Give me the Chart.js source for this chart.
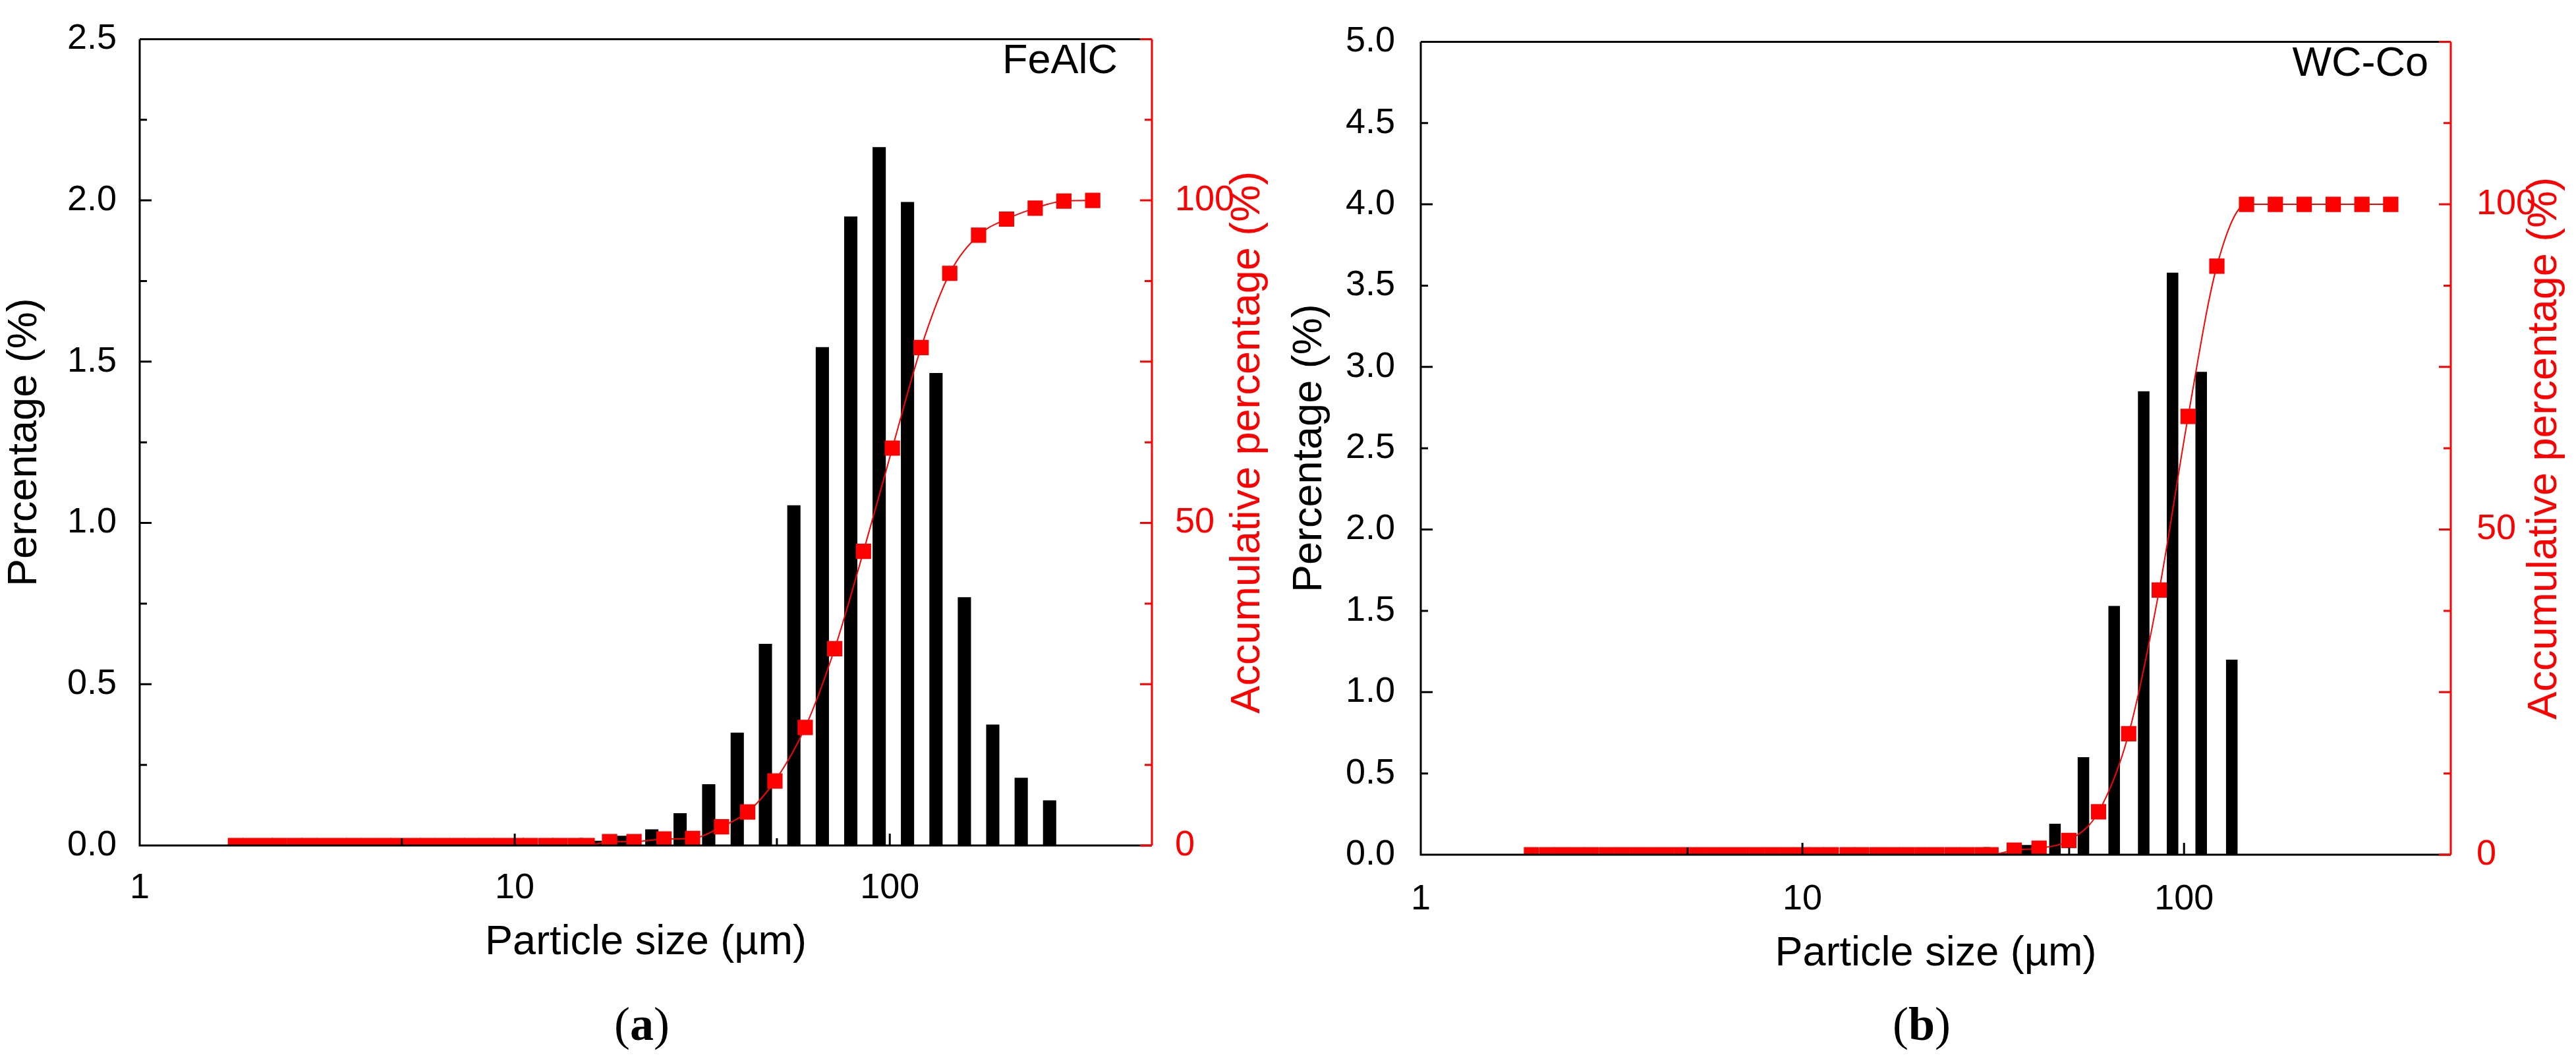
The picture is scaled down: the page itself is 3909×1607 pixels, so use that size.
<!DOCTYPE html>
<html><head><meta charset="utf-8">
<script src="https://cdn.jsdelivr.net/npm/chart.js@4.4.0/dist/chart.umd.min.js"></script>
<style>
body{margin:0;background:#fff;width:3909px;height:1607px;position:relative;overflow:hidden;font-family:"Liberation Sans",Arial,sans-serif}
.c{position:absolute;top:0}
.lbl{position:absolute;font-size:63px;color:#000;line-height:1}
.pl{position:absolute;font-family:"Liberation Serif",serif;font-size:72px;line-height:1}
</style></head><body>
<div class="c" style="left:0;width:1950px;height:1480px"><canvas id="a"></canvas></div>
<div class="c" style="left:1950px;width:1959px;height:1497px"><canvas id="b"></canvas></div>
<div class="lbl" style="right:2213px;top:58px">FeAlC</div>
<div class="lbl" style="right:224px;top:62px">WC-Co</div>
<div class="pl" style="left:932px;top:1518px">(<b>a</b>)</div>
<div class="pl" style="left:2872px;top:1518px">(<b>b</b>)</div>
<script>
// Panel (a) FeAlC
const aSize=[16.4,19.5,23.2,27.6,32.9,39.2,46.6,55.5,66.1,78.7,93.7,111.5,132.8,158.1,188.2,224.1,266.8];
const aPct=[0.015,0.03,0.05,0.1,0.19,0.35,0.625,1.055,1.545,1.95,2.165,1.995,1.465,0.77,0.375,0.21,0.14];
const aCumSize=[1.8,1.97,2.16,2.36,2.59,2.83,3.1,3.4,3.72,4.07,4.46,4.88,5.35,5.85,6.41,7.02,7.68,8.41,9.2,10.1,11.0,12.1,13.2,14.5,15.6,17.9,20.8,25.0,29.8,35.6,41.8,49.4,59.5,71.3,85.1,101.6,121.2,144.5,172.5,204.8,244.2,291.2,347.6];
const aCum=[0,0,0,0,0,0,0,0,0,0,0,0,0,0,0,0,0,0,0,0,0,0,0,0,0,0.6,0.6,1.0,1.1,2.9,5.2,10,18.3,30.5,45.6,61.6,77.2,88.7,94.6,97.1,98.8,99.9,100];
// Panel (b) WC-Co
const bSize=[33.2,38.5,45.9,54.5,65.6,78.4,93.3,110.9,133.4];
const bPct=[0.01,0.06,0.19,0.6,1.53,2.85,3.58,2.97,1.2];
const bCumSize=[1.95,2.14,2.34,2.56,2.8,3.07,3.36,3.68,4.03,4.41,4.83,5.29,5.79,6.34,6.94,7.6,8.32,9.11,9.97,10.9,11.9,13.1,14.3,15.7,17.2,18.8,20.6,22.5,24.7,27.0,29.6,31.2,35.9,41.7,49.9,59.7,71.6,86.1,102.5,121.9,145.8,173.5,206.5,246,292.5,348];
const bCum=[0,0,0,0,0,0,0,0,0,0,0,0,0,0,0,0,0,0,0,0,0,0,0,0,0,0,0,0,0,0,0,0,0.7,1.0,2.2,6.6,18.6,40.7,67.4,90.5,100,100,100,100,100,100];
const xTicks=[1,10,100], xMinor=[5,50];

function make(id,size,pct,cs,cv,o){
  const deco={id:'deco',afterDraw(ch){
    const c=ch.ctx,a=ch.chartArea,x=ch.scales.x,y=ch.scales.y,y1=ch.scales.y1;
    c.save();c.lineWidth=3;
    c.strokeStyle='#000';c.beginPath();
    c.moveTo(a.left,a.top);c.lineTo(a.right,a.top);
    c.moveTo(a.left,a.top);c.lineTo(a.left,a.bottom);c.lineTo(a.right,a.bottom);
    for(let v=0;v<=o.ymax+1e-9;v+=o.ymax/10){const p=y.getPixelForValue(v);const L=(Math.round(v/(o.ymax/10))%2==0)?18:11;c.moveTo(a.left,p);c.lineTo(a.left+L,p);}
    xTicks.forEach(v=>{const p=x.getPixelForValue(v);c.moveTo(p,a.bottom);c.lineTo(p,a.bottom-18);});
    xMinor.forEach(v=>{const p=x.getPixelForValue(v);c.moveTo(p,a.bottom);c.lineTo(p,a.bottom-11);});
    c.stroke();
    c.strokeStyle='#f00';c.beginPath();c.moveTo(a.right,a.top);c.lineTo(a.right,a.bottom);
    for(let v=0;v<=125;v+=12.5){const p=y1.getPixelForValue(v);c.moveTo(a.right,p);c.lineTo(a.right-(v%25==0?18:11),p);}
    c.stroke();
    c.fillStyle='#f00';c.font='63px "Liberation Sans", Arial';c.textAlign='center';c.textBaseline='middle';
    c.translate(ch.width-o.rtx,(a.top+a.bottom)/2);c.rotate(-Math.PI/2);
    c.fillText('Accumulative percentage (%)',0,0);
    c.restore();}};
  new Chart(document.getElementById(id),{
    type:'bar',
    data:{datasets:[
      {type:'line',data:cs.map((s,i)=>({x:s,y:cv[i]})),yAxisID:'y1',borderColor:'#f00',borderWidth:2,
       pointStyle:'rect',pointRadius:15,pointBackgroundColor:'#f00',pointBorderColor:'#f00',cubicInterpolationMode:'monotone',order:0},
      {data:size.map((s,i)=>({x:s,y:pct[i]})),yAxisID:'y',backgroundColor:'#000',barPercentage:0.47,categoryPercentage:1,order:1}
    ]},
    plugins:[deco],
    options:{responsive:true,maintainAspectRatio:false,animation:false,devicePixelRatio:1,
      layout:{padding:{top:o.top,left:0,right:0,bottom:0}},
      plugins:{legend:{display:false},tooltip:{enabled:false}},
      scales:{
        x:{type:'logarithmic',min:1,max:500,offset:false,grid:{display:false},border:{display:false},
           afterBuildTicks:s=>{s.ticks=xTicks.map(v=>({value:v}));},
           ticks:{autoSkip:false,maxRotation:0,color:'#000',font:{size:54,family:'"Liberation Sans", Arial'},padding:o.xpad,callback:v=>String(v)},
           title:{display:true,text:'Particle size (µm)',color:'#000',font:{size:63,family:'"Liberation Sans", Arial'},padding:{top:10,bottom:12}},
           afterFit:s=>{s.height=o.xh;}},
        y:{position:'left',min:0,max:o.ymax,grid:{display:false},border:{display:false},
           afterBuildTicks:s=>{s.ticks=o.yt.map(v=>({value:v}));},
           ticks:{color:'#000',font:{size:54,family:'"Liberation Sans", Arial'},padding:o.ylp,callback:v=>v.toFixed(1)},
           title:{display:true,text:'Percentage (%)',color:'#000',font:{size:63,family:'"Liberation Sans", Arial'},padding:{top:0,bottom:o.ytp}},
           afterFit:s=>{s.width=o.lw;}},
        y1:{position:'right',min:0,max:125,grid:{display:false},border:{display:false},
           afterBuildTicks:s=>{s.ticks=[0,50,100].map(v=>({value:v}));},
           ticks:{color:'#f00',font:{size:54,family:'"Liberation Sans", Arial'},padding:o.rlp},
           afterFit:s=>{s.width=o.rw;}}
      }}});
}
make('a',aSize,aPct,aCumSize,aCum,{top:46,xh:197,xpad:25,ymax:2.5,yt:[0,0.5,1,1.5,2,2.5],lw:212,rw:202,ylp:27,ytp:18,rlp:27,rtx:56});
make('b',bSize,bPct,bCumSize,bCum,{top:33,xh:200,xpad:28,ymax:5,yt:[0,0.5,1,1.5,2,2.5,3,3.5,4,4.5,5],lw:206,rw:190,ylp:31,ytp:3,rlp:31,rtx:47});
</script></body></html>
